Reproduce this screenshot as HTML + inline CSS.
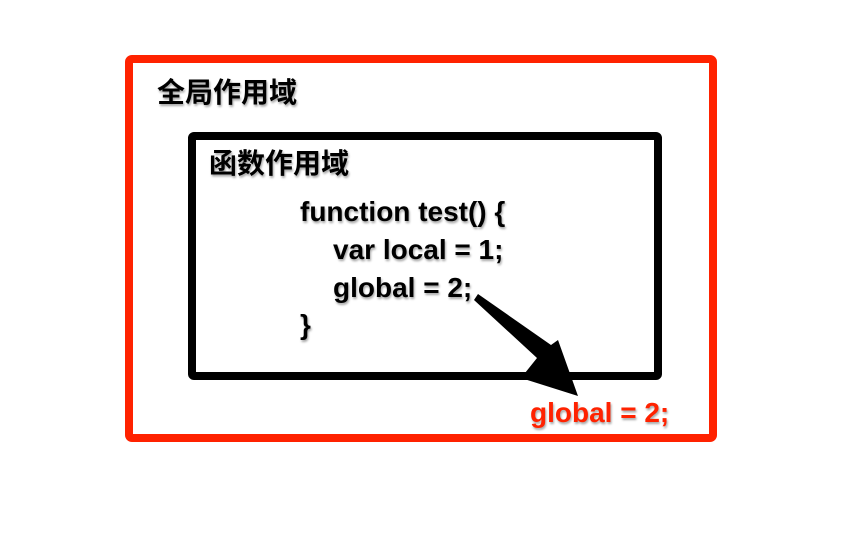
<!DOCTYPE html>
<html><head><meta charset="utf-8"><style>
body{margin:0;width:858px;height:544px;background:#fff;position:relative;overflow:hidden;font-family:"Liberation Sans","Noto Sans CJK SC",sans-serif;font-weight:bold}
.t{position:absolute;font-size:28px;line-height:28px;white-space:pre;text-shadow:1px 2px 2px rgba(0,0,0,0.35)}
</style></head><body>
<svg width="858" height="544" style="position:absolute;left:0;top:0">
<rect x="129" y="59" width="584" height="379" fill="none" stroke="#ff2200" stroke-width="8" rx="3"/>
<rect x="192" y="136" width="466" height="240" fill="none" stroke="#000" stroke-width="8" rx="2"/>
<path d="M474,300 L478,294 L551,345 L558,340 L578,396 L521,378 L537,358 Z" fill="#000"/>
</svg>
<div class="t" style="left:157px;top:79px">全局作用域</div>
<div class="t" style="left:209px;top:150px">函数作用域</div>
<div class="t" style="left:300px;top:198px">function test() {</div>
<div class="t" style="left:333px;top:236px">var local = 1;</div>
<div class="t" style="left:333px;top:274px">global = 2;</div>
<div class="t" style="left:300px;top:311px">}</div>
<div class="t" style="left:530px;top:399px;color:#ff2200">global = 2;</div>
</body></html>
